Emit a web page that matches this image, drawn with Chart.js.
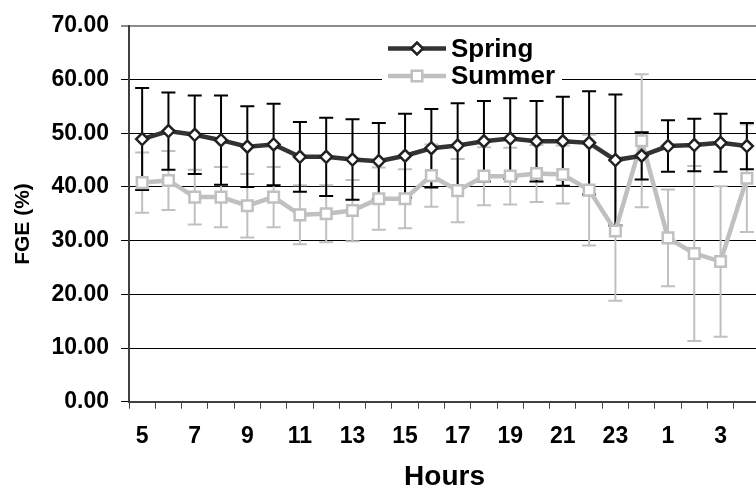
<!DOCTYPE html>
<html>
<head>
<meta charset="utf-8">
<script src="https://cdn.jsdelivr.net/npm/chart.js@4.4.1/dist/chart.umd.min.js"></script>
<style>
  html, body { margin: 0; padding: 0; background: #fff; overflow: hidden; }
  #wrap { width: 770px; height: 491px; }
</style>
</head>
<body>
<div id="wrap"><canvas id="fgeChart"></canvas></div>
<script>
const hours = ['5', '6', '7', '8', '9', '10', '11', '12', '13', '14', '15', '16',
               '17', '18', '19', '20', '21', '22', '23', '24', '1', '2', '3', '4'];

const springMean = [48.9, 50.4, 49.7, 48.7, 47.5, 47.9, 45.6, 45.6, 45.1, 44.8, 45.8, 47.2,
                    47.7, 48.5, 49.0, 48.5, 48.5, 48.2, 45.0, 45.8, 47.6, 47.8, 48.2, 47.6];
const springSd   = [9.5, 7.2, 7.3, 8.3, 7.5, 7.6, 6.5, 7.3, 7.5, 7.1, 7.8, 7.3,
                    7.9, 7.5, 7.5, 7.5, 8.3, 9.6, 12.2, 4.4, 4.8, 4.9, 5.4, 4.3];

const summerMean = [40.8, 41.2, 38.1, 38.1, 36.5, 38.1, 34.8, 35.0, 35.6, 37.8, 37.8, 42.1,
                    39.3, 42.0, 42.0, 42.5, 42.3, 39.4, 31.8, 48.6, 30.5, 27.6, 26.1, 41.6];
const summerSd   = [5.6, 5.5, 5.1, 5.6, 5.9, 5.6, 5.5, 5.3, 5.7, 5.8, 5.5, 5.8,
                    5.9, 5.4, 5.3, 5.3, 5.4, 10.3, 13.0, 12.4, 9.0, 16.3, 14.0, 10.0];

const yMin = 0, yMax = 70, yStep = 10;

const FONT = "'Liberation Sans', Arial, sans-serif";
const SPRING = '#333333';
const SUMMER = '#c0c0c0';

// +/- SD whiskers with caps, drawn before the lines so markers sit on top
const errorBars = {
  id: 'errorBars',
  beforeDatasetsDraw(chart) {
    const { ctx, scales: { x, y } } = chart;
    const sets = [
      { mean: summerMean, sd: summerSd, color: SUMMER },
      { mean: springMean, sd: springSd, color: '#000' }
    ];
    ctx.save();
    ctx.lineWidth = 2;
    sets.forEach(s => {
      ctx.strokeStyle = s.color;
      s.mean.forEach((v, i) => {
        const px = x.getPixelForValue(i);
        const top = y.getPixelForValue(v + s.sd[i]);
        const bot = y.getPixelForValue(v - s.sd[i]);
        ctx.beginPath();
        ctx.moveTo(px, top); ctx.lineTo(px, bot);
        ctx.moveTo(px - 7, top); ctx.lineTo(px + 7, top);
        ctx.moveTo(px - 7, bot); ctx.lineTo(px + 7, bot);
        ctx.stroke();
      });
    });
    ctx.restore();
  }
};

// legend box inside the plot, plus the rotated y title
const overlay = {
  id: 'overlay',
  afterDraw(chart) {
    const ctx = chart.ctx;
    ctx.save();
    ctx.fillStyle = '#fff';
    ctx.fillRect(382, 30, 180, 58);

    const rows = [
      { label: 'Spring', y: 48.5, color: SPRING, style: 'rectRot', r: 6, bc: '#222' },
      { label: 'Summer', y: 76, color: SUMMER, style: 'rect', r: 7.5, bc: SUMMER }
    ];
    rows.forEach(row => {
      ctx.strokeStyle = row.color;
      ctx.lineWidth = 4.5;
      ctx.beginPath();
      ctx.moveTo(388, row.y); ctx.lineTo(446, row.y);
      ctx.stroke();
      ctx.fillStyle = '#fff';
      ctx.strokeStyle = row.bc;
      ctx.lineWidth = 2.5;
      Chart.helpers.drawPoint(ctx, { pointStyle: row.style, radius: row.r, borderWidth: 2.5 }, 417, row.y);
      ctx.fillStyle = '#000';
      ctx.font = 'bold 26px ' + FONT;
      ctx.textBaseline = 'middle';
      ctx.textAlign = 'left';
      ctx.fillText(row.label, 451, row.y + 1);
    });

    ctx.translate(23, 224);
    ctx.rotate(-Math.PI / 2);
    ctx.textAlign = 'center';
    ctx.textBaseline = 'middle';
    ctx.font = 'bold 21px ' + FONT;
    ctx.fillText('FGE (%)', 0, 0);
    ctx.restore();
  }
};

new Chart('fgeChart', {
  type: 'line',
  data: {
    labels: hours,
    datasets: [
      {
        label: 'Spring',
        data: springMean,
        borderColor: SPRING,
        borderWidth: 4.5,
        tension: 0,
        pointStyle: 'rectRot',
        pointRadius: 6,
        pointBorderWidth: 2.5,
        pointBorderColor: '#222',
        pointBackgroundColor: '#fff'
      },
      {
        label: 'Summer',
        data: summerMean,
        borderColor: SUMMER,
        borderWidth: 4.5,
        tension: 0,
        pointStyle: 'rect',
        pointRadius: 7.5,
        pointBorderWidth: 2.5,
        pointBorderColor: SUMMER,
        pointBackgroundColor: '#fff'
      }
    ]
  },
  options: {
    responsive: true,
    maintainAspectRatio: false,
    animation: false,
    layout: { padding: { top: 17, right: 5, left: 0, bottom: 0 } },
    plugins: {
      legend: { display: false },
      tooltip: { enabled: false }
    },
    scales: {
      x: {
        offset: true,
        grid: {
          offset: true,
          drawOnChartArea: false,
          drawTicks: true,
          tickLength: 7,
          color: '#404040'
        },
        border: { color: '#404040', width: 2 },
        ticks: {
          autoSkip: false,
          maxRotation: 0,
          padding: 14,
          color: '#000',
          font: { family: FONT, size: 23, weight: 'bold' },
          callback: (v, i) => (i % 2 === 0 ? hours[i] : '')
        },
        title: {
          display: true,
          text: 'Hours',
          color: '#000',
          padding: 0,
          font: { family: FONT, size: 28, weight: 'bold', lineHeight: 1 }
        },
        afterFit: s => { s.height = 89.3; }
      },
      y: {
        min: yMin,
        max: yMax,
        grid: {
          color: c => (c.tick && c.tick.value === yMax ? '#8c8c8c' : '#000'),
          lineWidth: c => (c.tick && c.tick.value === yMax ? 2 : 1),
          tickLength: 8
        },
        border: { color: '#404040', width: 2 },
        ticks: {
          stepSize: yStep,
          padding: 12,
          color: '#000',
          font: { family: FONT, size: 23, weight: 'bold' },
          callback: v => v.toFixed(2)
        },
        afterFit: s => { s.width = 129; }
      }
    }
  },
  plugins: [errorBars, overlay]
});
</script>
</body>
</html>
